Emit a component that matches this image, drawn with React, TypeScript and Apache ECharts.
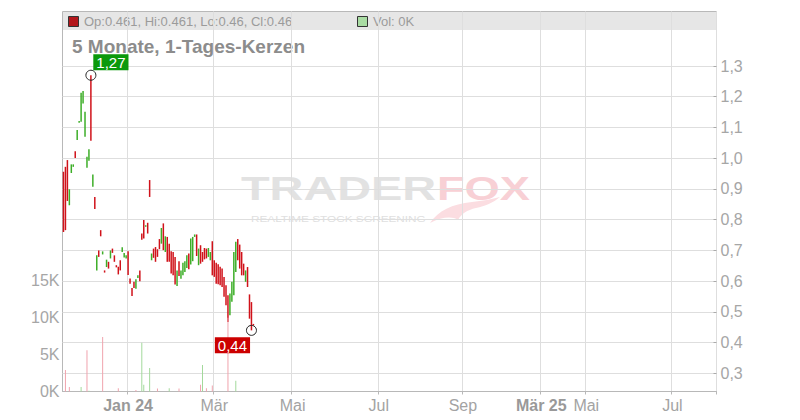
import React, { useEffect, useRef } from "react";
import * as echarts from "echarts";

const FONT = "'Liberation Sans', Arial, Helvetica, sans-serif";

// Daily candles: [open, close, low, high]
const candles: number[][] = [
  [0.956, 0.760, 0.760, 0.956], [0.972, 0.766, 0.766, 0.972], [0.994, 0.861, 0.861, 0.994],
  [0.847, 0.899, 0.847, 0.899], [0.952, 0.980, 0.952, 0.980], [0.972, 0.980, 0.972, 0.980],
  [1.023, 1.001, 1.001, 1.023], [1.059, 1.092, 1.059, 1.092], [1.115, 1.121, 1.115, 1.121],
  [1.119, 1.213, 1.119, 1.213], [1.178, 1.219, 1.178, 1.219], [1.070, 1.151, 1.070, 1.151],
  [0.969, 1.005, 0.969, 1.005], [0.992, 1.029, 0.992, 1.029], [1.270, 1.057, 1.057, 1.270],
  [0.907, 0.947, 0.907, 0.947], [0.874, 0.835, 0.835, 0.874], [0.635, 0.684, 0.635, 0.684],
  [0.700, 0.679, 0.679, 0.700], [0.766, 0.746, 0.746, 0.766], [0.687, 0.697, 0.687, 0.697],
  [0.635, 0.628, 0.628, 0.635], [0.646, 0.670, 0.646, 0.670], [0.663, 0.641, 0.641, 0.663],
  [0.674, 0.700, 0.674, 0.700], [0.706, 0.692, 0.692, 0.706], [0.684, 0.663, 0.663, 0.684],
  [0.652, 0.645, 0.645, 0.652], [0.647, 0.622, 0.622, 0.647], [0.668, 0.635, 0.635, 0.668],
  [0.695, 0.710, 0.695, 0.710], [0.677, 0.692, 0.677, 0.692], [0.674, 0.684, 0.674, 0.684],
  [0.697, 0.620, 0.620, 0.697], [0.609, 0.592, 0.592, 0.609], [0.578, 0.552, 0.552, 0.578],
  [0.598, 0.578, 0.578, 0.598], [0.575, 0.606, 0.575, 0.606], [0.610, 0.619, 0.610, 0.619],
  [0.635, 0.600, 0.600, 0.635], [0.755, 0.735, 0.735, 0.755], [0.799, 0.739, 0.739, 0.799],
  [0.777, 0.782, 0.777, 0.782], [0.790, 0.755, 0.755, 0.790], [0.929, 0.874, 0.874, 0.929],
  [0.668, 0.690, 0.668, 0.690], [0.706, 0.676, 0.676, 0.706], [0.711, 0.663, 0.663, 0.711],
  [0.704, 0.679, 0.679, 0.704], [0.737, 0.704, 0.704, 0.737], [0.722, 0.773, 0.722, 0.773],
  [0.788, 0.701, 0.701, 0.788], [0.695, 0.746, 0.695, 0.746], [0.744, 0.663, 0.663, 0.744],
  [0.722, 0.663, 0.663, 0.722], [0.697, 0.625, 0.625, 0.697], [0.695, 0.619, 0.619, 0.695],
  [0.679, 0.589, 0.589, 0.679], [0.584, 0.635, 0.584, 0.635], [0.665, 0.617, 0.617, 0.665],
  [0.608, 0.635, 0.608, 0.635], [0.619, 0.660, 0.619, 0.660], [0.630, 0.665, 0.630, 0.665],
  [0.643, 0.684, 0.643, 0.684], [0.690, 0.639, 0.639, 0.690], [0.654, 0.739, 0.654, 0.739],
  [0.665, 0.744, 0.665, 0.744], [0.744, 0.752, 0.744, 0.752], [0.752, 0.682, 0.682, 0.752],
  [0.652, 0.706, 0.652, 0.706], [0.717, 0.657, 0.657, 0.717], [0.695, 0.663, 0.663, 0.695],
  [0.708, 0.671, 0.671, 0.708], [0.706, 0.674, 0.674, 0.706], [0.679, 0.708, 0.679, 0.708],
  [0.668, 0.695, 0.668, 0.695], [0.730, 0.619, 0.619, 0.730], [0.668, 0.614, 0.614, 0.668],
  [0.660, 0.592, 0.592, 0.660], [0.655, 0.590, 0.590, 0.655], [0.647, 0.587, 0.587, 0.647],
  [0.641, 0.581, 0.581, 0.641], [0.614, 0.549, 0.549, 0.614], [0.587, 0.522, 0.522, 0.587],
  [0.554, 0.467, 0.467, 0.554], [0.489, 0.560, 0.489, 0.560], [0.533, 0.598, 0.533, 0.598],
  [0.554, 0.695, 0.554, 0.695], [0.630, 0.728, 0.630, 0.728], [0.737, 0.668, 0.668, 0.737],
  [0.719, 0.641, 0.641, 0.719], [0.695, 0.619, 0.619, 0.695], [0.657, 0.619, 0.619, 0.657],
  [0.598, 0.635, 0.598, 0.635], [0.646, 0.581, 0.581, 0.646], [0.557, 0.478, 0.478, 0.557],
  [0.532, 0.462, 0.440, 0.532], [0.461, 0.460, 0.460, 0.461],
];

// x axis: day slots (history + future), labelled months
const slotCount = 334;
const tickSlots = [33, 77, 117, 161, 204, 244, 267, 311];
const tickLabels = ["Jan 24", "Mär", "Mai", "Jul", "Sep", "Mär 25", "Mai", "Jul"];
const boldTickLabels = ["Jan 24", "Mär 25"];

// volume (only days with trades)
const volumeSlots = [1, 3, 9, 12, 13, 20, 28, 37, 40, 41, 44, 48, 54, 59, 70, 71, 73, 76, 84, 88];
const volumeValues = [2900, 600, 600, 5600, 100, 7400, 450, 200, 6600, 900, 3200, 400, 450, 400, 900, 3600, 450, 800, 10000, 1450];
const volumeUp = [false, false, true, false, true, false, false, false, true, true, true, false, true, false, false, true, false, false, false, true];

const priceMin = 0.3;
const priceMax = 1.3;
const priceStep = 0.1;
const volumeMax = 51500;
const volumeStep = 5000;
const volumeLabelMax = 15000;

const highMark = { slot: 14, value: 1.27, text: "1,27" };
const lowMark = { slot: 96, value: 0.44, text: "0,44" };

const headerText = "Op:0.461, Hi:0.461, Lo:0.46, Cl:0.46";
const volText = "Vol: 0K";
const titleText = "5 Monate, 1-Tages-Kerzen";

const UP = "#3dae28";
const DOWN = "#d0121a";
const GRID_LINE = "#dedede";
const FRAME = "#b8b8b8";
const LABEL = "#a6a6a6";

const TAIL_PATH =
  "M0,26 C8,14 22,7 42,5 C52,4 62,2 70,0 C63,6 55,9 46,11 C37,13 31,17 28,23 C22,19 12,20 0,26 Z";

export default function App() {
  const ref = useRef<HTMLDivElement>(null);

  useEffect(() => {
    if (!ref.current) return;
    try {
      echarts.graphic.registerShape("foxTail", echarts.graphic.extendPath(TAIL_PATH, {}) as any);
    } catch (e) {
      /* already registered */
    }
    const chart = echarts.init(ref.current, undefined, { renderer: "svg" });

    const categories = Array.from({ length: slotCount }, (_, i) => String(i));
    const isTick = (i: number) => tickSlots.indexOf(i) >= 0;

    const volumeData: any[] = categories.map(() => null);
    volumeSlots.forEach((s, k) => {
      volumeData[s] = {
        value: volumeValues[k],
        itemStyle: { color: volumeUp[k] ? "#a3d99b" : "#f0a3ad" },
      };
    });

    const candleData = candles.map((c, i) => [i, c[0], c[1], c[2], c[3]]);

    const markLabel = {
      show: true,
      position: "inside",
      color: "#ffffff",
      fontSize: 15,
      fontFamily: FONT,
      padding: [1, 3, 0, 3],
    };

    const option: any = {
      animation: false,
      backgroundColor: "#ffffff",
      textStyle: { fontFamily: FONT },
      grid: [
        { left: 62.5, right: 83.5, top: 11.5, bottom: 28.5, show: true, borderColor: FRAME, borderWidth: 1, backgroundColor: "transparent" },
        { left: 62.5, right: 83.5, top: 66, bottom: 46.6 },
      ],
      xAxis: [
        {
          type: "category",
          gridIndex: 0,
          data: categories,
          boundaryGap: true,
          axisLine: { lineStyle: { color: FRAME } },
          axisTick: { show: true, interval: (i: number) => isTick(i), length: 3, lineStyle: { color: FRAME } },
          axisLabel: {
            interval: (i: number) => isTick(i),
            margin: 6,
            fontSize: 16,
            fontFamily: FONT,
            color: "#a3a3a3",
            formatter: (_v: string, i: number) => {
              const k = tickSlots.indexOf(i);
              if (k < 0) return "";
              const t = tickLabels[k];
              return boldTickLabels.indexOf(t) >= 0 ? "{b|" + t + "}" : t;
            },
            rich: { b: { fontWeight: "bold", fontSize: 16, fontFamily: FONT, color: "#999999" } },
          },
          splitLine: { show: true, interval: (i: number) => isTick(i), lineStyle: { color: GRID_LINE } },
        },
        {
          type: "category",
          gridIndex: 1,
          data: categories,
          boundaryGap: true,
          show: false,
        },
      ],
      yAxis: [
        {
          type: "value",
          gridIndex: 0,
          position: "left",
          min: 0,
          max: volumeMax,
          interval: volumeStep,
          axisLine: { show: false },
          axisTick: { show: false },
          splitLine: { show: false },
          axisLabel: {
            margin: 3,
            fontSize: 16,
            fontFamily: FONT,
            color: LABEL,
            formatter: (v: number) => (v <= volumeLabelMax ? Math.round(v / 1000) + "K" : ""),
          },
        },
        {
          type: "value",
          gridIndex: 1,
          position: "right",
          min: priceMin,
          max: priceMax,
          interval: priceStep,
          axisLine: { show: false },
          axisTick: { show: true, inside: true, length: 3, lineStyle: { color: "#aaaaaa" } },
          splitLine: { show: true, lineStyle: { color: GRID_LINE } },
          axisLabel: {
            margin: 4,
            fontSize: 16,
            fontFamily: FONT,
            color: LABEL,
            formatter: (v: number) => v.toFixed(1).replace(".", ","),
          },
        },
      ],
      series: [
        {
          type: "bar",
          name: "vol",
          xAxisIndex: 0,
          yAxisIndex: 0,
          barWidth: 1,
          silent: true,
          data: volumeData,
        },
        {
          type: "custom",
          name: "price",
          xAxisIndex: 1,
          yAxisIndex: 1,
          silent: true,
          encode: { x: 0, y: [1, 2, 3, 4] },
          data: candleData,
          renderItem: (_params: any, api: any) => {
            const idx = api.value(0);
            const open = api.value(1);
            const close = api.value(2);
            const low = api.value(3);
            const high = api.value(4);
            const pHigh = api.coord([idx, high]);
            const pLow = api.coord([idx, low]);
            const x = pHigh[0];
            const y1 = pHigh[1];
            let y2 = pLow[1];
            if (y2 - y1 < 1.5) y2 = y1 + 1.5;
            return {
              type: "line",
              shape: { x1: x, y1, x2: x, y2 },
              style: { stroke: close >= open ? UP : DOWN, lineWidth: 1.5 },
            };
          },
        },
        {
          type: "scatter",
          name: "marks",
          xAxisIndex: 1,
          yAxisIndex: 1,
          silent: true,
          symbol: "circle",
          symbolSize: 10,
          z: 5,
          itemStyle: { color: "rgba(0,0,0,0)", borderColor: "#222", borderWidth: 1, opacity: 1 },
          data: [
            {
              value: [highMark.slot, highMark.value],
              label: { ...markLabel, formatter: highMark.text, backgroundColor: "#0b990b", offset: [20, -13] },
            },
            {
              value: [lowMark.slot, lowMark.value],
              label: { ...markLabel, formatter: lowMark.text, backgroundColor: "#cc0000", offset: [-19, 15] },
            },
          ],
        },
      ],
      graphic: [
        // watermark
        {
          type: "text", x: 241, y: 188.5, z: -1, scaleX: 1.42, silent: true,
          style: { text: "TRADER", fontSize: 33, fontWeight: "bold", fontFamily: FONT, fill: "#e2e2e2", verticalAlign: "middle" },
        },
        {
          type: "text", x: 437, y: 188.5, z: -1, scaleX: 1.37, silent: true,
          style: { text: "FOX", fontSize: 33, fontWeight: "bold", fontFamily: FONT, fill: "#f8d0d5", verticalAlign: "middle" },
        },
        {
          type: "foxTail", x: 430, y: 197, z: -1, silent: true,
          style: { fill: "#fbdde1" },
        },
        {
          type: "text", x: 251, y: 218, z: -1, scaleX: 1.24, silent: true,
          style: { text: "REALTIME STOCK SCREENING", fontSize: 9.5, fontFamily: FONT, fill: "#e0e0e0", verticalAlign: "middle" },
        },
        // header bar
        {
          type: "rect", z: -1, silent: true,
          shape: { x: 63, y: 12, width: 653, height: 18 },
          style: { fill: "#e6e6e6" },
        },
        {
          type: "rect", silent: true,
          shape: { x: 68.5, y: 16.5, width: 10, height: 10 },
          style: { fill: "#b3161b", stroke: "#333", lineWidth: 1 },
        },
        {
          type: "text", x: 84, y: 21.5, silent: true,
          style: { text: headerText, fontSize: 13, fontFamily: FONT, fill: "#9b9b9b", verticalAlign: "middle" },
        },
        {
          type: "rect", silent: true,
          shape: { x: 357.5, y: 16.5, width: 10, height: 10 },
          style: { fill: "#a9dca3", stroke: "#333", lineWidth: 1 },
        },
        {
          type: "text", x: 373, y: 21.5, silent: true,
          style: { text: volText, fontSize: 13, fontFamily: FONT, fill: "#9b9b9b", verticalAlign: "middle" },
        },
        {
          type: "text", x: 72, y: 46.5, silent: true,
          style: { text: titleText, fontSize: 19, fontWeight: "bold", fontFamily: FONT, fill: "#8c8c8c", verticalAlign: "middle" },
        },
      ],
    };

    chart.setOption(option);
    return () => chart.dispose();
  }, []);

  return (
    <div
      ref={ref}
      style={{ position: "fixed", left: 0, top: 0, width: 800, height: 420, background: "#fff" }}
    />
  );
}
